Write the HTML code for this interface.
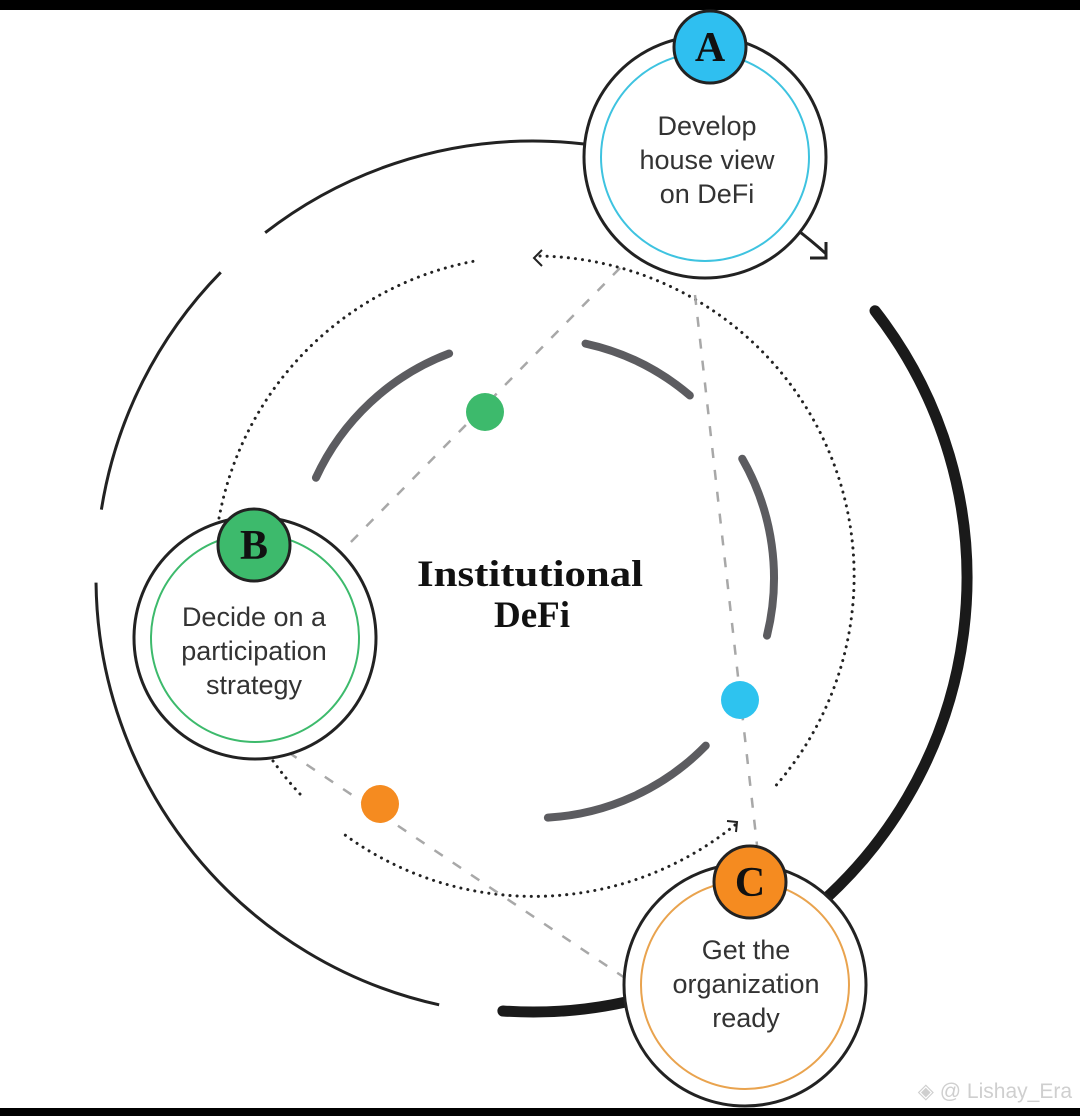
<!DOCTYPE html>
<html><head><meta charset="utf-8"><style>
html,body{margin:0;padding:0;background:#fff;width:1080px;height:1116px;overflow:hidden}
svg{display:block}
.t{font-family:"Liberation Sans",sans-serif;font-size:27px;fill:#333;text-anchor:middle}
.s{font-family:"Liberation Serif",serif;font-weight:bold;text-anchor:middle;fill:#111}
</style></head><body>
<svg width="1080" height="1116" viewBox="0 0 1080 1116" xmlns="http://www.w3.org/2000/svg">
<rect width="1080" height="1116" fill="#fff"/>
<rect x="0" y="0" width="1080" height="10" fill="#000"/>
<rect x="0" y="1108" width="1080" height="8" fill="#000"/>

<g fill="none" stroke="#222" stroke-width="3">
<circle cx="533" cy="578" r="437" pathLength="360" stroke-dasharray="80 1000" transform="rotate(-127.8 533 578)"/>
<circle cx="533" cy="578" r="437" pathLength="360" stroke-dasharray="35.4 1000" transform="rotate(-171 533 578)"/>
<circle cx="533" cy="578" r="437" pathLength="360" stroke-dasharray="77 1000" transform="rotate(102.4 533 578)"/>
</g>
<polyline points="810,258 826,258 826,242" fill="none" stroke="#222" stroke-width="3"/>
<circle cx="533" cy="578" r="434" fill="none" stroke="#1a1a1a" stroke-width="11" stroke-linecap="round" pathLength="360" stroke-dasharray="132 1000" transform="rotate(-38 533 578)"/>

<g fill="none" stroke="#222" stroke-width="3" stroke-linecap="round" stroke-dasharray="0.1 7">
<path d="M300 794 A320 320 0 0 1 475 261"/>
<path d="M540 256 A320 320 0 0 1 772 790"/>
<path d="M735 825 A320 320 0 0 1 341 832"/>
</g>
<polyline points="542,250 534,258 542,266" fill="none" stroke="#222" stroke-width="2"/>
<polyline points="727,821 737,822 736,832" fill="none" stroke="#222" stroke-width="2"/>

<g fill="none" stroke="#5c5c60" stroke-width="8" stroke-linecap="round">
<circle cx="534" cy="578" r="240" pathLength="360" stroke-dasharray="44.6 1000" transform="rotate(-155.3 534 578)"/>
<circle cx="534" cy="578" r="240" pathLength="360" stroke-dasharray="28.1 1000" transform="rotate(-77.6 534 578)"/>
<circle cx="534" cy="578" r="240" pathLength="360" stroke-dasharray="43.7 1000" transform="rotate(-29.8 534 578)"/>
<circle cx="534" cy="578" r="240" pathLength="360" stroke-dasharray="42.4 1000" transform="rotate(44.3 534 578)"/>
</g>

<g stroke="#a8a8a8" stroke-width="2.5" stroke-dasharray="10 12" fill="none">
<line x1="620" y1="268" x2="345" y2="548"/>
<line x1="695" y1="295" x2="757" y2="845"/>
<line x1="270" y1="740" x2="625" y2="978"/>
</g>
<circle cx="485" cy="412" r="19" fill="#3dba6c"/>
<circle cx="740" cy="700" r="19" fill="#2ec3ef"/>
<circle cx="380" cy="804" r="19" fill="#f58b20"/>

<text class="s" x="530" y="586" font-size="37" textLength="226" lengthAdjust="spacingAndGlyphs">Institutional</text>
<text class="s" x="532" y="627" font-size="37">DeFi</text>

<circle cx="705" cy="157" r="121" fill="#fff" stroke="#222" stroke-width="3"/>
<circle cx="705" cy="157" r="104" fill="none" stroke="#3ec3e0" stroke-width="2"/>
<text class="t" x="707" y="135">Develop</text>
<text class="t" x="707" y="169">house view</text>
<text class="t" x="707" y="203">on DeFi</text>
<circle cx="710" cy="47" r="36" fill="#2fbff0" stroke="#222" stroke-width="3"/>
<text class="s" x="710" y="61" font-size="42">A</text>

<circle cx="255" cy="638" r="121" fill="#fff" stroke="#222" stroke-width="3"/>
<circle cx="255" cy="638" r="104" fill="none" stroke="#3dba6c" stroke-width="2"/>
<text class="t" x="254" y="626">Decide on a</text>
<text class="t" x="254" y="660">participation</text>
<text class="t" x="254" y="694">strategy</text>
<circle cx="254" cy="545" r="36" fill="#3dba6c" stroke="#222" stroke-width="3"/>
<text class="s" x="254" y="559" font-size="42">B</text>

<circle cx="745" cy="985" r="121" fill="#fff" stroke="#222" stroke-width="3"/>
<circle cx="745" cy="985" r="104" fill="none" stroke="#e9a34e" stroke-width="2"/>
<text class="t" x="746" y="959">Get the</text>
<text class="t" x="746" y="993">organization</text>
<text class="t" x="746" y="1027">ready</text>
<circle cx="750" cy="882" r="36" fill="#f58b20" stroke="#222" stroke-width="3"/>
<text class="s" x="750" y="896" font-size="42">C</text>

<text x="1072" y="1098" font-family="Liberation Sans,sans-serif" font-size="21" fill="#cfcfcf" text-anchor="end">◈ @ Lishay_Era</text>
</svg>
</body></html>
